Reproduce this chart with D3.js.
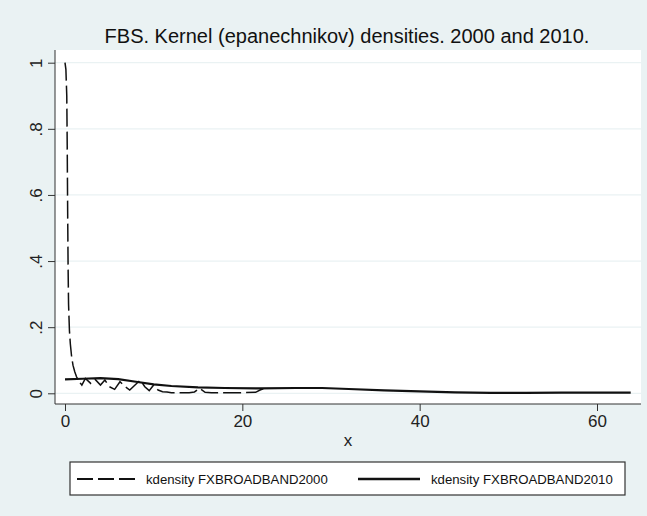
<!DOCTYPE html>
<html lang="en">
<head>
<meta charset="UTF-8">
<title>FBS kernel densities</title>
<script src="https://d3js.org/d3.v7.min.js"></script>
<style>
body { margin: 0; background: #eaf2f3; }
svg { display: block; font-family: "Liberation Sans", Arial, sans-serif; }
</style>
</head>
<body>
<svg width="647" height="516"></svg>
<script>
// kdensity FXBROADBAND2000 (dashed)
const x2000 = [0, 0.1, 0.2, 0.25, 0.3, 0.35, 0.4, 0.5, 0.6, 0.75, 0.9, 1.1, 1.3, 1.6, 1.9,
  2.3, 2.9, 3.4, 4.0, 4.5, 5.0, 5.6, 6.2, 6.8, 7.3, 7.9, 8.5, 9.0, 9.5, 10.0, 10.5, 11.0, 11.5,
  12.0, 13.0, 14.0, 14.6, 15.2, 15.8, 16.5, 18.0, 20.0, 21.5, 22.0, 22.6];
const y2000 = [1.0, 0.98, 0.9, 0.75, 0.55, 0.38, 0.27, 0.19, 0.15, 0.11, 0.085, 0.065, 0.05, 0.035, 0.025,
  0.045, 0.03, 0.042, 0.025, 0.04, 0.02, 0.012, 0.035, 0.02, 0.01, 0.025, 0.04, 0.02, 0.008, 0.025, 0.01, 0.005, 0.004,
  0.002, 0.002, 0.002, 0.004, 0.015, 0.003, 0.002, 0.002, 0.002, 0.003, 0.01, 0.016];

// kdensity FXBROADBAND2010 (solid)
const x2010 = [0, 2, 4, 6, 8, 10, 12, 15, 18, 22, 26, 29, 32, 36, 40, 44, 48, 52, 56, 60, 63.8];
const y2010 = [0.042, 0.044, 0.046, 0.043, 0.035, 0.027, 0.022, 0.018, 0.016, 0.015, 0.016, 0.016,
  0.013, 0.009, 0.006, 0.003, 0.001, 0.001, 0.002, 0.002, 0.002];

const xTicks = [0, 20, 40, 60];
const yTicks = [0, 0.2, 0.4, 0.6, 0.8, 1];
const yTickLabels = ["0", ".2", ".4", ".6", ".8", "1"];
const seriesNames = ["kdensity FXBROADBAND2000", "kdensity FXBROADBAND2010"];

const svg = d3.select("svg");
const plot = { left: 55, right: 641, top: 50, bottom: 404 };

const x = d3.scaleLinear().domain([0, 60]).range([65, 597]);
const y = d3.scaleLinear().domain([0, 1]).range([393.3, 62.7]);

// plot region
svg.append("rect")
  .attr("x", plot.left).attr("y", plot.top)
  .attr("width", plot.right - plot.left).attr("height", plot.bottom - plot.top)
  .attr("fill", "#fff");

// grid lines
svg.append("g").selectAll("line")
  .data(yTicks)
  .enter().append("line")
    .attr("x1", plot.left).attr("x2", plot.right)
    .attr("y1", d => y(d)).attr("y2", d => y(d))
    .attr("stroke", "#eaf2f3").attr("stroke-width", 1.3);

// y axis
const yAxis = svg.append("g")
  .attr("transform", `translate(${plot.left},0)`)
  .call(d3.axisLeft(y).tickValues(yTicks).tickSize(7).tickSizeOuter(0)
    .tickFormat((d, i) => yTickLabels[i]));
yAxis.select(".domain").attr("d", `M0,${plot.top}V${plot.bottom}`).attr("stroke", "#333");
yAxis.selectAll(".tick line").attr("stroke", "#333");
yAxis.selectAll(".tick text")
  .attr("font-size", 17).attr("fill", "#222")
  .attr("text-anchor", "middle")
  .attr("transform", "rotate(-90)")
  .attr("x", 0).attr("y", -13).attr("dy", 0);

// x axis
const xAxis = svg.append("g")
  .attr("transform", `translate(0,${plot.bottom})`)
  .call(d3.axisBottom(x).tickValues(xTicks).tickSize(7).tickSizeOuter(0));
xAxis.select(".domain").attr("d", `M${plot.left},0H${plot.right}`).attr("stroke", "#333");
xAxis.selectAll(".tick line").attr("stroke", "#333");
xAxis.selectAll(".tick text")
  .attr("font-size", 17).attr("fill", "#222").attr("y", 11).attr("dy", "0.71em");

svg.append("text")
  .attr("x", (plot.left + plot.right) / 2).attr("y", 446)
  .attr("text-anchor", "middle").attr("font-size", 17).attr("fill", "#222")
  .text("x");

// title
svg.append("text")
  .attr("x", 347).attr("y", 43)
  .attr("text-anchor", "middle").attr("font-size", 20).attr("fill", "#111")
  .text("FBS. Kernel (epanechnikov) densities. 2000 and 2010.");

// lines
const line = d3.line().x(d => x(d[0])).y(d => y(d[1]));

svg.append("path")
  .datum(x2000.map((v, i) => [v, y2000[i]]))
  .attr("d", line)
  .attr("fill", "none").attr("stroke", "#111").attr("stroke-width", 1.5)
  .attr("stroke-dasharray", "18,5");

svg.append("path")
  .datum(x2010.map((v, i) => [v, y2010[i]]))
  .attr("d", line)
  .attr("fill", "none").attr("stroke", "#111").attr("stroke-width", 2.2);

// legend
const legend = svg.append("g");
legend.append("rect")
  .attr("x", 70).attr("y", 462).attr("width", 555).attr("height", 33)
  .attr("fill", "#fff").attr("stroke", "#333").attr("stroke-width", 1.2);

legend.append("line")
  .attr("x1", 77).attr("x2", 136).attr("y1", 479).attr("y2", 479)
  .attr("stroke", "#111").attr("stroke-width", 1.8).attr("stroke-dasharray", "16,5");
legend.append("line")
  .attr("x1", 358).attr("x2", 420).attr("y1", 479).attr("y2", 479)
  .attr("stroke", "#111").attr("stroke-width", 2.4);

legend.selectAll("text")
  .data(seriesNames)
  .enter().append("text")
    .attr("x", (d, i) => i === 0 ? 146 : 431)
    .attr("y", 484)
    .attr("font-size", 13.2).attr("fill", "#111")
    .text(d => d);
</script>
</body>
</html>
